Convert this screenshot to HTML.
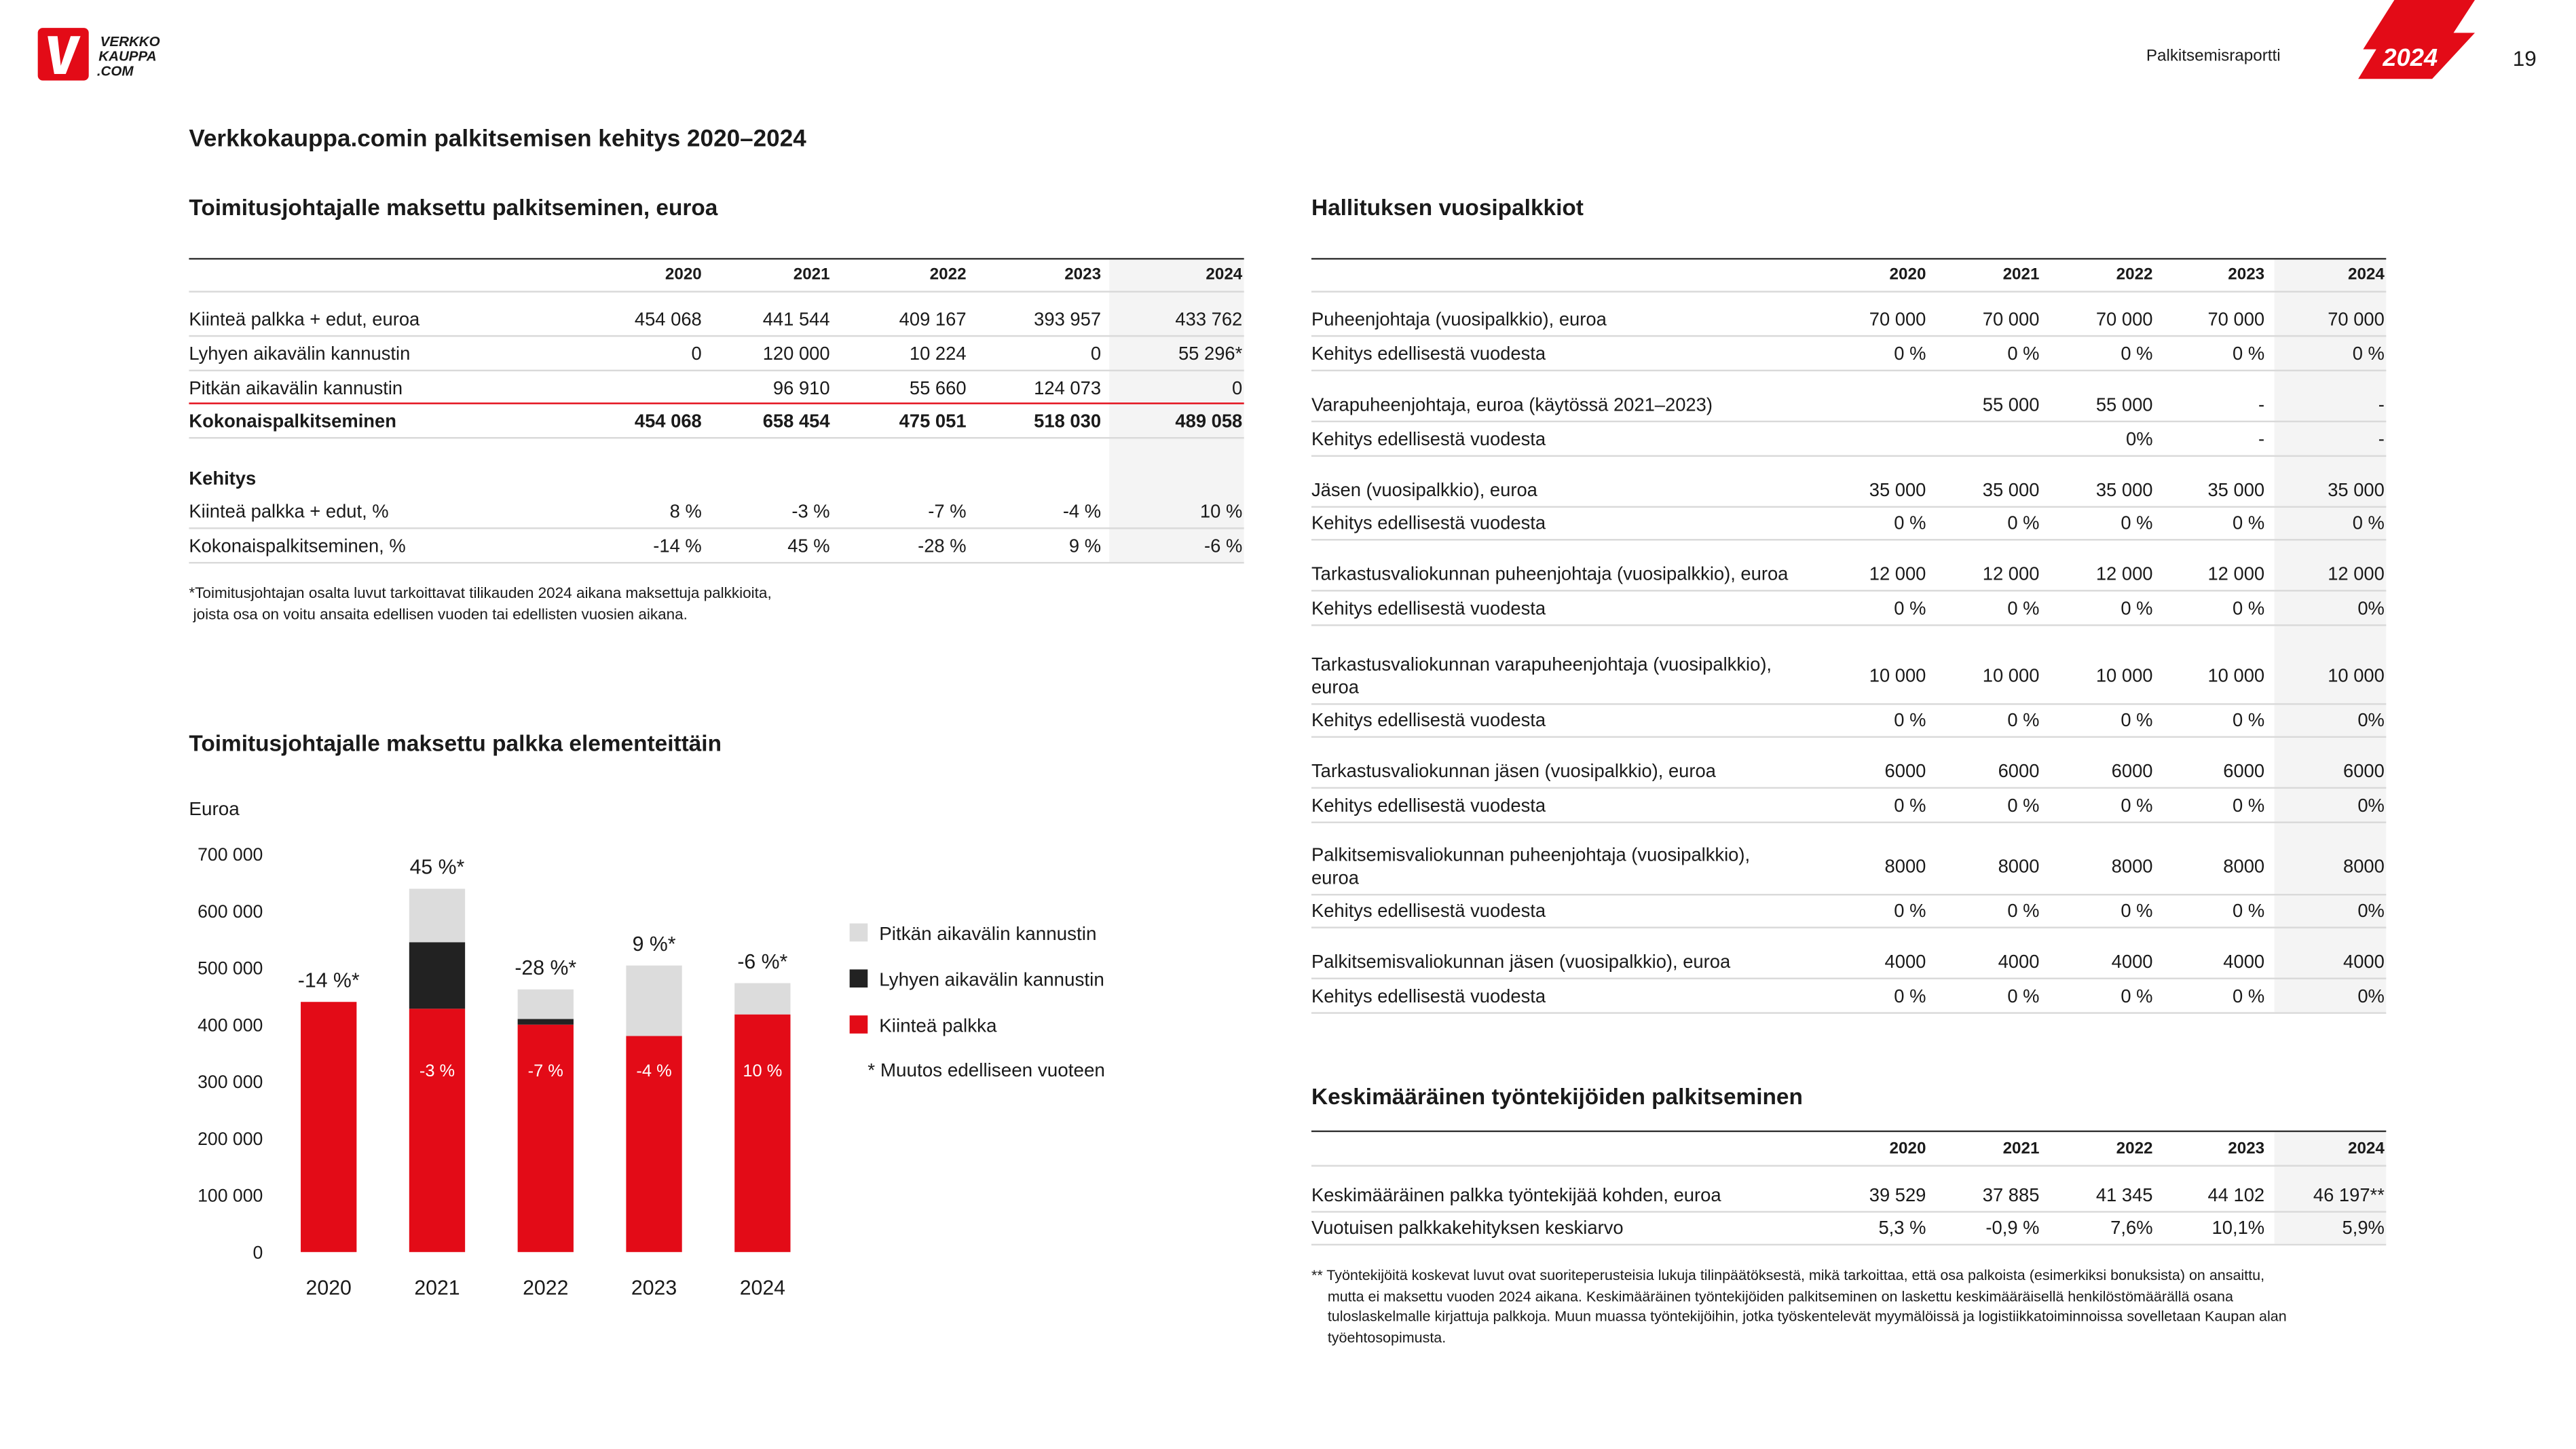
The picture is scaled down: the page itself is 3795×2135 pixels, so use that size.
<!DOCTYPE html>
<html><head><meta charset="utf-8">
<style>
html,body{margin:0;padding:0;background:#fff;}
body{width:3795px;height:2134px;overflow:hidden;position:relative;}
#page{position:absolute;left:0;top:0;width:1568px;height:882px;transform:scale(2.4210);transform-origin:0 0;font-family:"Liberation Sans",sans-serif;color:#1a1a1a;}
.t{position:absolute;white-space:nowrap;line-height:1;}
.r{text-align:right;}
.hl{position:absolute;background:#f4f4f4;}
.ln{position:absolute;height:1px;background:#d9d9d9;}
</style></head>
<body>
<div id="page">
  <svg style="position:absolute;left:22px;top:16px" width="84" height="36">
    <rect x="1" y="1" width="31" height="32" rx="3" fill="#e30b17"/>
    <polygon points="7,6 13,6 15,24 21,6 27,6 18,29 11,29" fill="#fff"/>
    <text x="39" y="12" font-family="Liberation Sans" font-style="italic" font-weight="bold" font-size="8.5" fill="#1a1a1a">VERKKO</text>
    <text x="38" y="21" font-family="Liberation Sans" font-style="italic" font-weight="bold" font-size="8.5" fill="#1a1a1a">KAUPPA</text>
    <text x="37" y="30" font-family="Liberation Sans" font-style="italic" font-weight="bold" font-size="8.5" fill="#1a1a1a">.COM</text>
  </svg>
  <div class="t" style="left:1306px;top:30px;font-size:10px">Palkitsemisraportti</div>
  <svg style="position:absolute;left:1430px;top:0" width="80" height="50">
    <polygon points="27,0 76,0 63,20 76,20 50,48 5,48 16,30 8,30" fill="#e30b17"/>
    <text x="20" y="40" font-family="Liberation Sans" font-style="italic" font-weight="bold" font-size="15" fill="#fff">2024</text>
  </svg>
  <div class="t" style="left:1529px;top:29px;font-size:13px">19</div>

  <div class="t" style="left:115px;top:78px;font-size:14.5px;font-weight:bold">Verkkokauppa.comin palkitsemisen kehitys 2020–2024</div>
  <div class="t" style="left:115px;top:120px;font-size:13.8px;font-weight:bold">Toimitusjohtajalle maksettu palkitseminen, euroa</div>
  <div class="t" style="left:798px;top:120px;font-size:13.8px;font-weight:bold">Hallituksen vuosipalkkiot</div>
  <div class="t" style="left:798px;top:661px;font-size:13.8px;font-weight:bold">Keskimääräinen työntekijöiden palkitseminen</div>
  <div class="t" style="left:115px;top:446px;font-size:13.8px;font-weight:bold">Toimitusjohtajalle maksettu palkka elementeittäin</div>

  <div class="t" style="left:115px;top:355px;font-size:9.3px;line-height:13px">*Toimitusjohtajan osalta luvut tarkoittavat tilikauden 2024 aikana maksettuja palkkioita,<br>&nbsp;joista osa on voitu ansaita edellisen vuoden tai edellisten vuosien aikana.</div>
  <div class="t" style="left:798px;top:770px;font-size:8.9px;line-height:12.7px">** Työntekijöitä koskevat luvut ovat suoriteperusteisia lukuja tilinpäätöksestä, mikä tarkoittaa, että osa palkoista (esimerkiksi bonuksista) on ansaittu,<br>&nbsp;&nbsp;&nbsp;&nbsp;mutta ei maksettu vuoden 2024 aikana. Keskimääräinen työntekijöiden palkitseminen on laskettu keskimääräisellä henkilöstömäärällä osana<br>&nbsp;&nbsp;&nbsp;&nbsp;tuloslaskelmalle kirjattuja palkkoja. Muun muassa työntekijöihin, jotka työskentelevät myymälöissä ja logistiikkatoiminnoissa sovelletaan Kaupan alan<br>&nbsp;&nbsp;&nbsp;&nbsp;työehtosopimusta.</div>

  <div id="tables"></div>

  <svg id="chart" style="position:absolute;left:0;top:0" width="1568" height="882"></svg>
</div>

<script>
const page = document.getElementById('tables');
function txt(x, y, s, opts) {
  const d = document.createElement('div');
  d.className = 't';
  d.textContent = s;
  d.style.top = (y - 4.5) + 'px';
  d.style.fontSize = (opts && opts.size ? opts.size : 11.3) + 'px';
  if (opts && opts.bold) d.style.fontWeight = 'bold';
  if (opts && opts.right) { d.style.left = (x - 200) + 'px'; d.style.width = '200px'; d.style.textAlign = 'right'; }
  else d.style.left = x + 'px';
  page.appendChild(d);
  return d;
}
function line(x1, x2, y, color, h) {
  const l = document.createElement('div');
  l.className = 'ln';
  l.style.left = x1 + 'px'; l.style.width = (x2 - x1) + 'px'; l.style.top = y + 'px';
  if (color) l.style.background = color;
  if (h) l.style.height = h + 'px';
  
  
  page.appendChild(l);
}
function hl(x1, x2, y1, y2) {
  const h = document.createElement('div');
  h.className = 'hl';
  h.style.left = x1 + 'px'; h.style.width = (x2 - x1) + 'px'; h.style.top = y1 + 'px'; h.style.height = (y2 - y1) + 'px';
  
  
  page.appendChild(h);
}
const years = ['2020', '2021', '2022', '2023', '2024'];

const ceoCols = [427, 505, 588, 670, 756];
hl(675, 757, 158, 342);
line(115, 757, 157, '#333');
years.forEach((y, i) => { const e = txt(ceoCols[i], 167, y, {right: true, bold: true, size: 10});
  
   });
line(115, 757, 177);
const ceoRows = [
  [194, 'Kiinteä palkka + edut, euroa', ['454 068', '441 544', '409 167', '393 957', '433 762'], false, 204, null],
  [215, 'Lyhyen aikavälin kannustin', ['0', '120 000', '10 224', '0', '55 296*'], false, 225, null],
  [236, 'Pitkän aikavälin kannustin', ['', '96 910', '55 660', '124 073', '0'], false, 245, '#e30b17'],
  [256, 'Kokonaispalkitseminen', ['454 068', '658 454', '475 051', '518 030', '489 058'], true, 266, null],
  [291, 'Kehitys', ['', '', '', '', ''], true, null, null],
  [311, 'Kiinteä palkka + edut, %', ['8 %', '-3 %', '-7 %', '-4 %', '10 %'], false, 321, null],
  [332, 'Kokonaispalkitseminen, %', ['-14 %', '45 %', '-28 %', '9 %', '-6 %'], false, 342, null]
];
ceoRows.forEach(r => {
  const l = txt(115, r[0], r[1], {bold: r[3]});
  
  
  r[2].forEach((v, i) => { if (!v) return; const c = txt(ceoCols[i], r[0], v, {right: true, bold: r[3]});
    
     });
  if (r[4]) line(115, 757, r[4], r[5], r[5] ? 1.3 : 1);
});

const bCols = [1172, 1241, 1310, 1378, 1451];
hl(1384, 1452, 158, 616);
line(798, 1452, 157, '#333');
years.forEach((y, i) => { const e = txt(bCols[i], 167, y, {right: true, bold: true, size: 10});
  
   });
line(798, 1452, 177);
const K = 'Kehitys edellisestä vuodesta';
const z = ['0 %', '0 %', '0 %', '0 %', '0 %'];
const z2 = ['0 %', '0 %', '0 %', '0 %', '0%'];
const boardRows = [
  [194, 'Puheenjohtaja (vuosipalkkio), euroa', ['70 000','70 000','70 000','70 000','70 000'], 204],
  [215, K, z, 225],
  [246, 'Varapuheenjohtaja, euroa (käytössä 2021–2023)', ['','55 000','55 000','-','-'], 256],
  [267, K, ['','','0%','-','-'], 277],
  [298, 'Jäsen (vuosipalkkio), euroa', ['35 000','35 000','35 000','35 000','35 000'], 308],
  [318, K, z, 328],
  [349, 'Tarkastusvaliokunnan puheenjohtaja (vuosipalkkio), euroa', ['12 000','12 000','12 000','12 000','12 000'], 359],
  [370, K, z2, 380],
  [411, 'Tarkastusvaliokunnan varapuheenjohtaja (vuosipalkkio),|euroa', ['10 000','10 000','10 000','10 000','10 000'], 428],
  [438, K, z2, 448],
  [469, 'Tarkastusvaliokunnan jäsen (vuosipalkkio), euroa', ['6000','6000','6000','6000','6000'], 479],
  [490, K, z2, 500],
  [527, 'Palkitsemisvaliokunnan puheenjohtaja (vuosipalkkio),|euroa', ['8000','8000','8000','8000','8000'], 544],
  [554, K, z2, 564],
  [585, 'Palkitsemisvaliokunnan jäsen (vuosipalkkio), euroa', ['4000','4000','4000','4000','4000'], 595],
  [606, K, z2, 616]
];
boardRows.forEach(r => {
  const parts = r[1].split('|');
  if (parts.length === 2) {
    const a = txt(798, r[0] - 7, parts[0]);
    
    
    const b = txt(798, r[0] + 7, parts[1]);
    
    
  } else {
    const a = txt(798, r[0], r[1]);
    
    
  }
  r[2].forEach((v, i) => { if (!v) return; const c = txt(bCols[i], r[0], v, {right: true});
    
     });
  line(798, 1452, r[3]);
});

hl(1384, 1452, 689, 757);
line(798, 1452, 688, '#333');
years.forEach((y, i) => { const e = txt(bCols[i], 699, y, {right: true, bold: true, size: 10});
  
   });
line(798, 1452, 709);
const empRows = [
  [727, 'Keskimääräinen palkka työntekijää kohden, euroa', ['39 529','37 885','41 345','44 102','46 197**'], 737],
  [747, 'Vuotuisen palkkakehityksen keskiarvo', ['5,3 %','-0,9 %','7,6%','10,1%','5,9%'], 757]
];
empRows.forEach(r => {
  const a = txt(798, r[0], r[1]);
  
  
  r[2].forEach((v, i) => { const c = txt(bCols[i], r[0], v, {right: true});
    
     });
  line(798, 1452, r[3]);
});
</script>

<script>
const categories = ['2020', '2021', '2022', '2023', '2024'];
const fixedPay = [440000, 428000, 400000, 380000, 418000];
const shortIncentive = [0, 117000, 10000, 0, 0];
const longIncentive = [0, 94000, 52000, 124000, 55000];
const totalChangeLabels = ['-14 %*', '45 %*', '-28 %*', '9 %*', '-6 %*'];
const fixedChangeLabels = ['', '-3 %', '-7 %', '-4 %', '10 %'];
const yTicks = [0, 100000, 200000, 300000, 400000, 500000, 600000, 700000];
const yTickLabels = ['0', '100 000', '200 000', '300 000', '400 000', '500 000', '600 000', '700 000'];

const svg = document.getElementById('chart');
const NS = 'http://www.w3.org/2000/svg';
const y0 = 762, yPerUnit = 34.6 / 100000;
function yScale(v) { return y0 - v * yPerUnit; }
function xScale(i) { return 200 + i * 66; }
const barW = 34;
function el(tag, attrs) {
  const e = document.createElementNS(NS, tag);
  for (const k in attrs) e.setAttribute(k, attrs[k]);
  svg.appendChild(e);
  return e;
}
function text(x, y, s, attrs) {
  const t = el('text', Object.assign({x: x, y: y, 'font-family': 'Liberation Sans, sans-serif', 'font-size': 11.5, fill: '#1a1a1a'}, attrs || {}));
  t.textContent = s;
  return t;
}
const ya = text(115, 496, 'Euroa', {});


yTicks.forEach((v, i) => {
  const t = text(160, yScale(v) + 4, yTickLabels[i], {'text-anchor': 'end', 'font-size': 11});
  
  
});
categories.forEach((c, i) => {
  const cx = xScale(i);
  let base = 0;
  const segs = [[fixedPay[i], '#e30b17', 'bar-fixed-' + c], [shortIncentive[i], '#222222', 'bar-short-' + c], [longIncentive[i], '#dcdcdc', 'bar-long-' + c]];
  segs.forEach(s => {
    if (s[0] <= 0) return;
    const r = el('rect', {x: cx - barW / 2, y: yScale(base + s[0]), width: barW, height: s[0] * yPerUnit, fill: s[1]});
    
    
    base += s[0];
  });
  const tl = text(cx, yScale(base) - 9, totalChangeLabels[i], {'text-anchor': 'middle', 'font-size': 12.5});
  
  
  if (fixedChangeLabels[i]) {
    const fl = text(cx, 655, fixedChangeLabels[i], {'text-anchor': 'middle', 'font-size': 10.5, fill: '#fff'});
    
    
  }
  const xl = text(cx, 788, c, {'text-anchor': 'middle', 'font-size': 12.5});
  
  
});
const legend = [['#dcdcdc', 'Pitkän aikavälin kannustin', 562], ['#222222', 'Lyhyen aikavälin kannustin', 590], ['#e30b17', 'Kiinteä palkka', 618]];
legend.forEach(l => {
  const sw = el('rect', {x: 517, y: l[2], width: 11, height: 11, fill: l[0]});
  
  
  const lt = text(535, l[2] + 10, l[1], {'font-size': 11.5});
  
  
});
const note = text(528, 655, '* Muutos edelliseen vuoteen', {'font-size': 11.5});


</script>
</body></html>
